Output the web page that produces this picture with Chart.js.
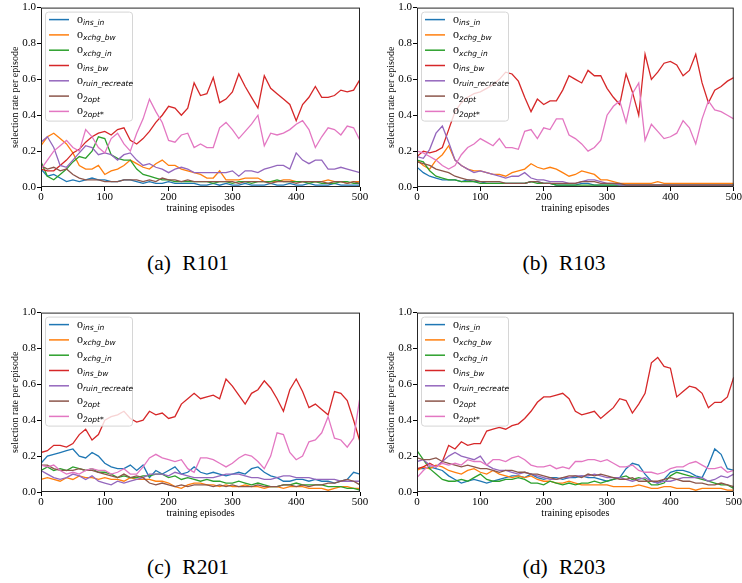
<!DOCTYPE html>
<html>
<head>
<meta charset="utf-8">
<script src="https://cdn.jsdelivr.net/npm/chart.js@4.4.1/dist/chart.umd.min.js"></script>
<style>
  body { margin: 0; background: #fff; }
  #page { position: relative; width: 742px; height: 583px; overflow: hidden; background: #fff; }
  canvas { position: absolute; }
  .caption {
    position: absolute; width: 200px; text-align: center;
    font-family: 'Liberation Serif', serif; font-size: 21.5px; line-height: 24px;
    word-spacing: 6px; color: #000;
  }
</style>
</head>
<body>
<div id="page">
  <canvas id="r101" width="371" height="225" style="left:0;top:0;width:371px;height:225px"></canvas>
  <canvas id="r103" width="366" height="225" style="left:376px;top:0;width:366px;height:225px"></canvas>
  <canvas id="r201" width="371" height="225" style="left:0;top:305px;width:371px;height:225px"></canvas>
  <canvas id="r203" width="366" height="225" style="left:376px;top:305px;width:366px;height:225px"></canvas>
  <div class="caption" style="left:88px;top:251px">(a) R101</div>
  <div class="caption" style="left:464px;top:251px">(b) R103</div>
  <div class="caption" style="left:88px;top:555px">(c) R201</div>
  <div class="caption" style="left:464px;top:555px">(d) R203</div>
</div>
<script>
// x positions (training episodes), sampled every 10 episodes
const episodes = [0,10,20,30,40,50,60,70,80,90,100,110,120,130,140,150,160,170,180,190,200,210,220,230,240,250,260,270,280,290,300,310,320,330,340,350,360,370,380,390,400,410,420,430,440,450,460,470,480,490,500];
const xTicks = [0, 100, 200, 300, 400, 500];
const yTicks = [0, 0.2, 0.4, 0.6, 0.8, 1.0];
const yTickLabels = ['0.0', '0.2', '0.4', '0.6', '0.8', '1.0'];

const seriesNames = ['ins_in', 'xchg_bw', 'xchg_in', 'ins_bw', 'ruin_recreate', '2opt', '2opt*'];
const seriesColors = ['#1f77b4', '#ff7f0e', '#2ca02c', '#d62728', '#9467bd', '#8c564b', '#e377c2'];

// R101
const r101InsIn = [0.10,0.06,0.07,0.05,0.03,0.04,0.03,0.04,0.05,0.04,0.04,0.03,0.03,0.04,0.04,0.03,0.02,0.03,0.02,0.02,0.03,0.02,0.02,0.02,0.02,0.01,0.01,0.02,0.01,0.02,0.01,0.01,0.02,0.01,0.01,0.01,0.02,0.01,0.01,0.02,0.01,0.01,0.02,0.01,0.01,0.01,0.02,0.01,0.01,0.01,0.01];
const r101XchgBw = [0.23,0.28,0.30,0.27,0.24,0.19,0.12,0.10,0.10,0.12,0.07,0.09,0.10,0.12,0.15,0.13,0.11,0.10,0.13,0.15,0.12,0.12,0.10,0.09,0.08,0.07,0.05,0.05,0.09,0.04,0.04,0.04,0.05,0.05,0.05,0.03,0.03,0.03,0.04,0.04,0.03,0.03,0.03,0.03,0.03,0.04,0.03,0.03,0.02,0.03,0.03];
const r101XchgIn = [0.14,0.06,0.04,0.07,0.10,0.14,0.17,0.16,0.20,0.28,0.27,0.18,0.16,0.15,0.15,0.10,0.07,0.06,0.05,0.04,0.04,0.03,0.03,0.03,0.03,0.03,0.03,0.02,0.03,0.03,0.02,0.03,0.03,0.02,0.03,0.03,0.03,0.04,0.03,0.03,0.03,0.03,0.02,0.03,0.02,0.02,0.02,0.03,0.03,0.02,0.02];
const r101InsBw = [0.10,0.09,0.09,0.12,0.15,0.19,0.21,0.25,0.28,0.30,0.31,0.29,0.32,0.33,0.26,0.24,0.27,0.31,0.36,0.40,0.45,0.44,0.40,0.44,0.58,0.51,0.52,0.61,0.47,0.49,0.53,0.63,0.56,0.50,0.44,0.62,0.55,0.52,0.49,0.46,0.37,0.46,0.50,0.56,0.50,0.50,0.51,0.54,0.53,0.54,0.60];
const r101Ruin = [0.25,0.28,0.22,0.12,0.11,0.15,0.19,0.23,0.22,0.18,0.19,0.18,0.15,0.18,0.19,0.15,0.12,0.13,0.11,0.10,0.08,0.10,0.11,0.10,0.08,0.08,0.08,0.08,0.08,0.08,0.09,0.06,0.09,0.09,0.08,0.10,0.11,0.12,0.12,0.10,0.19,0.15,0.13,0.15,0.15,0.10,0.10,0.11,0.10,0.09,0.08];
const r101TwoOpt = [0.12,0.10,0.11,0.09,0.10,0.07,0.05,0.04,0.04,0.04,0.03,0.03,0.03,0.04,0.04,0.04,0.03,0.04,0.03,0.05,0.04,0.04,0.03,0.04,0.03,0.03,0.03,0.03,0.03,0.03,0.03,0.02,0.03,0.03,0.03,0.03,0.02,0.03,0.03,0.03,0.02,0.03,0.03,0.03,0.03,0.02,0.03,0.03,0.02,0.03,0.02];
const r101TwoOptStar = [0.10,0.15,0.20,0.23,0.26,0.22,0.20,0.32,0.28,0.22,0.19,0.27,0.30,0.24,0.20,0.30,0.38,0.49,0.42,0.36,0.26,0.25,0.29,0.30,0.22,0.24,0.22,0.22,0.33,0.36,0.32,0.27,0.31,0.35,0.40,0.23,0.30,0.29,0.30,0.32,0.35,0.37,0.32,0.22,0.28,0.33,0.32,0.29,0.34,0.33,0.26];

// R103
const r103InsIn = [0.11,0.08,0.06,0.05,0.04,0.04,0.04,0.03,0.04,0.03,0.03,0.02,0.02,0.02,0.02,0.02,0.02,0.02,0.03,0.03,0.02,0.02,0.01,0.01,0.01,0.01,0.02,0.02,0.01,0.01,0.01,0.01,0.01,0.01,0.01,0.01,0.01,0.01,0.01,0.01,0.01,0.01,0.01,0.01,0.01,0.01,0.01,0.01,0.01,0.01,0.01];
const r103XchgBw = [0.15,0.12,0.10,0.15,0.18,0.23,0.15,0.12,0.10,0.09,0.09,0.08,0.07,0.07,0.06,0.08,0.09,0.10,0.13,0.11,0.10,0.11,0.10,0.08,0.06,0.07,0.09,0.08,0.07,0.04,0.04,0.03,0.02,0.02,0.02,0.02,0.02,0.02,0.03,0.02,0.02,0.02,0.02,0.02,0.02,0.02,0.02,0.02,0.02,0.02,0.02];
const r103XchgIn = [0.15,0.14,0.09,0.06,0.05,0.04,0.04,0.03,0.03,0.03,0.02,0.02,0.02,0.02,0.02,0.02,0.02,0.02,0.03,0.02,0.02,0.02,0.01,0.01,0.01,0.01,0.01,0.01,0.01,0.01,0.01,0.01,0.01,0.01,0.01,0.01,0.01,0.01,0.01,0.01,0.01,0.01,0.01,0.01,0.01,0.01,0.01,0.01,0.01,0.01,0.01];
const r103InsBw = [0.17,0.20,0.19,0.20,0.22,0.32,0.42,0.47,0.50,0.52,0.53,0.55,0.57,0.60,0.64,0.63,0.59,0.50,0.42,0.49,0.46,0.48,0.48,0.54,0.62,0.60,0.58,0.65,0.62,0.62,0.55,0.50,0.46,0.63,0.53,0.40,0.74,0.60,0.64,0.69,0.70,0.68,0.62,0.65,0.74,0.58,0.47,0.54,0.56,0.59,0.61];
const r103Ruin = [0.17,0.16,0.21,0.30,0.34,0.25,0.15,0.12,0.10,0.08,0.09,0.08,0.07,0.06,0.05,0.06,0.06,0.08,0.05,0.04,0.04,0.03,0.03,0.03,0.02,0.02,0.03,0.04,0.04,0.03,0.02,0.02,0.01,0.01,0.01,0.01,0.01,0.01,0.01,0.01,0.01,0.01,0.01,0.01,0.01,0.01,0.01,0.01,0.01,0.01,0.01];
const r103TwoOpt = [0.14,0.13,0.12,0.10,0.09,0.08,0.06,0.05,0.04,0.04,0.03,0.03,0.03,0.03,0.02,0.02,0.02,0.02,0.03,0.03,0.02,0.02,0.02,0.02,0.02,0.02,0.03,0.03,0.03,0.02,0.02,0.02,0.02,0.01,0.01,0.01,0.01,0.01,0.01,0.01,0.01,0.01,0.01,0.01,0.01,0.01,0.01,0.01,0.01,0.01,0.01];
const r103TwoOptStar = [0.20,0.19,0.17,0.15,0.12,0.10,0.12,0.18,0.22,0.24,0.27,0.25,0.23,0.27,0.22,0.22,0.21,0.31,0.32,0.27,0.33,0.32,0.38,0.38,0.29,0.27,0.24,0.20,0.22,0.26,0.40,0.45,0.48,0.36,0.52,0.58,0.26,0.35,0.31,0.27,0.28,0.30,0.37,0.33,0.24,0.38,0.48,0.43,0.42,0.40,0.38];

// R201
const r201InsIn = [0.16,0.20,0.21,0.22,0.23,0.24,0.20,0.19,0.22,0.20,0.16,0.14,0.13,0.13,0.15,0.12,0.15,0.08,0.12,0.10,0.12,0.14,0.10,0.11,0.14,0.11,0.10,0.11,0.10,0.09,0.10,0.11,0.10,0.13,0.14,0.11,0.09,0.08,0.06,0.06,0.07,0.07,0.06,0.07,0.06,0.06,0.05,0.06,0.07,0.11,0.10];
const r201XchgBw = [0.07,0.08,0.07,0.06,0.08,0.07,0.09,0.08,0.08,0.07,0.08,0.07,0.07,0.06,0.08,0.07,0.07,0.07,0.06,0.06,0.05,0.03,0.02,0.04,0.05,0.05,0.04,0.04,0.03,0.04,0.03,0.03,0.04,0.03,0.03,0.02,0.03,0.03,0.02,0.03,0.03,0.03,0.02,0.02,0.02,0.01,0.02,0.03,0.03,0.02,0.02];
const r201XchgIn = [0.12,0.14,0.12,0.13,0.12,0.14,0.13,0.12,0.13,0.11,0.11,0.10,0.08,0.09,0.08,0.08,0.09,0.09,0.10,0.10,0.08,0.09,0.07,0.08,0.07,0.06,0.07,0.06,0.06,0.05,0.05,0.06,0.05,0.04,0.05,0.04,0.03,0.03,0.04,0.04,0.05,0.04,0.04,0.04,0.04,0.03,0.03,0.03,0.02,0.02,0.01];
const r201InsBw = [0.22,0.23,0.26,0.26,0.25,0.27,0.32,0.35,0.29,0.32,0.40,0.42,0.43,0.45,0.41,0.39,0.40,0.45,0.43,0.44,0.41,0.42,0.49,0.52,0.55,0.52,0.53,0.54,0.52,0.63,0.59,0.54,0.49,0.55,0.57,0.62,0.58,0.52,0.45,0.57,0.63,0.56,0.47,0.49,0.46,0.43,0.56,0.55,0.51,0.40,0.28];
const r201Ruin = [0.12,0.10,0.08,0.07,0.08,0.10,0.09,0.07,0.09,0.06,0.05,0.04,0.06,0.05,0.06,0.07,0.08,0.10,0.10,0.10,0.09,0.11,0.10,0.09,0.08,0.08,0.08,0.08,0.09,0.10,0.10,0.10,0.09,0.08,0.08,0.07,0.07,0.08,0.09,0.09,0.08,0.08,0.08,0.07,0.07,0.07,0.07,0.06,0.06,0.06,0.06];
const r201TwoOpt = [0.15,0.15,0.13,0.12,0.12,0.12,0.13,0.12,0.12,0.11,0.10,0.09,0.08,0.10,0.08,0.09,0.08,0.05,0.04,0.05,0.04,0.03,0.04,0.03,0.04,0.04,0.04,0.03,0.04,0.03,0.04,0.03,0.03,0.03,0.04,0.03,0.03,0.03,0.04,0.04,0.03,0.04,0.03,0.04,0.04,0.05,0.05,0.06,0.07,0.06,0.04];
const r201TwoOptStar = [0.15,0.14,0.15,0.12,0.10,0.11,0.10,0.12,0.13,0.12,0.12,0.10,0.11,0.13,0.10,0.10,0.14,0.19,0.21,0.19,0.18,0.17,0.18,0.13,0.11,0.19,0.19,0.18,0.16,0.14,0.16,0.19,0.21,0.20,0.17,0.13,0.20,0.33,0.32,0.22,0.18,0.20,0.28,0.29,0.33,0.42,0.30,0.29,0.25,0.30,0.53];

// R203
const r203InsIn = [0.13,0.13,0.14,0.13,0.12,0.09,0.07,0.05,0.06,0.07,0.06,0.05,0.06,0.07,0.08,0.09,0.09,0.08,0.10,0.08,0.07,0.08,0.08,0.07,0.08,0.08,0.09,0.08,0.08,0.07,0.06,0.07,0.08,0.13,0.16,0.15,0.10,0.06,0.05,0.07,0.11,0.12,0.12,0.11,0.09,0.08,0.15,0.24,0.21,0.13,0.12];
const r203XchgBw = [0.12,0.14,0.13,0.15,0.14,0.12,0.11,0.10,0.12,0.13,0.11,0.10,0.12,0.10,0.09,0.08,0.09,0.08,0.09,0.07,0.06,0.06,0.05,0.05,0.06,0.05,0.04,0.04,0.04,0.04,0.04,0.03,0.03,0.03,0.03,0.04,0.03,0.02,0.02,0.03,0.03,0.02,0.02,0.02,0.01,0.02,0.02,0.02,0.02,0.01,0.01];
const r203XchgIn = [0.23,0.18,0.13,0.10,0.07,0.06,0.06,0.07,0.06,0.08,0.10,0.07,0.06,0.06,0.07,0.07,0.08,0.07,0.05,0.05,0.04,0.06,0.05,0.04,0.05,0.04,0.05,0.05,0.06,0.05,0.06,0.07,0.08,0.09,0.07,0.08,0.07,0.04,0.04,0.05,0.09,0.11,0.10,0.09,0.08,0.07,0.06,0.05,0.04,0.04,0.02];
const r203InsBw = [0.13,0.14,0.16,0.14,0.17,0.26,0.24,0.28,0.26,0.27,0.27,0.34,0.35,0.36,0.35,0.37,0.38,0.41,0.45,0.50,0.53,0.53,0.54,0.55,0.52,0.45,0.43,0.44,0.45,0.41,0.44,0.47,0.52,0.51,0.44,0.49,0.55,0.72,0.75,0.70,0.69,0.53,0.56,0.59,0.58,0.55,0.47,0.50,0.50,0.53,0.64];
const r203Ruin = [0.17,0.18,0.15,0.14,0.17,0.20,0.22,0.20,0.19,0.18,0.20,0.15,0.13,0.12,0.12,0.11,0.10,0.11,0.10,0.09,0.08,0.07,0.07,0.08,0.08,0.09,0.09,0.09,0.10,0.09,0.08,0.08,0.08,0.07,0.06,0.07,0.08,0.06,0.05,0.06,0.06,0.07,0.08,0.08,0.08,0.08,0.06,0.07,0.09,0.08,0.10];
const r203TwoOpt = [0.19,0.18,0.18,0.19,0.17,0.16,0.15,0.14,0.15,0.14,0.13,0.13,0.12,0.11,0.12,0.12,0.11,0.11,0.10,0.10,0.09,0.08,0.07,0.08,0.09,0.09,0.08,0.10,0.09,0.10,0.09,0.08,0.07,0.07,0.08,0.06,0.06,0.06,0.06,0.07,0.08,0.07,0.06,0.06,0.05,0.05,0.04,0.04,0.05,0.04,0.03];
const r203TwoOptStar = [0.08,0.12,0.15,0.14,0.16,0.15,0.16,0.15,0.18,0.17,0.17,0.15,0.18,0.18,0.17,0.19,0.20,0.18,0.15,0.14,0.14,0.15,0.13,0.14,0.13,0.17,0.17,0.18,0.18,0.17,0.18,0.16,0.14,0.14,0.15,0.12,0.11,0.11,0.10,0.11,0.13,0.14,0.14,0.16,0.17,0.15,0.13,0.13,0.14,0.11,0.12];

const serif = "'Liberation Serif', 'Times New Roman', serif";

// black box around the plot area (matplotlib spines)
const framePlugin = {
  id: 'frame',
  afterDatasetsDraw(chart) {
    const { ctx, chartArea: a } = chart;
    ctx.save();
    ctx.strokeStyle = '#262626';
    ctx.lineWidth = 1;
    ctx.strokeRect(a.left + 0.5, a.top + 0.5, a.right - a.left - 1, a.bottom - a.top - 1);
    ctx.restore();
  },
};

// legend with "o" and an italic subscript, like the mathtext labels
const subLegendPlugin = {
  id: 'subLegend',
  afterDraw(chart) {
    const { ctx, chartArea: a } = chart;
    const x0 = a.left + 4, y0 = a.top + 4, w = 87, h = 109, r = 3;
    ctx.save();
    ctx.beginPath();
    ctx.roundRect(x0 + 0.5, y0 + 0.5, w, h, r);
    ctx.fillStyle = 'rgba(255,255,255,0.8)';
    ctx.fill();
    ctx.strokeStyle = '#d6d6d6';
    ctx.lineWidth = 1;
    ctx.stroke();
    chart.data.datasets.forEach((ds, i) => {
      const y = y0 + 8 + i * 15.3;
      ctx.beginPath();
      ctx.moveTo(x0 + 4, y);
      ctx.lineTo(x0 + 24, y);
      ctx.strokeStyle = ds.borderColor;
      ctx.lineWidth = 1.5;
      ctx.stroke();
      ctx.fillStyle = '#000';
      ctx.textBaseline = 'alphabetic';
      ctx.font = '12px ' + serif;
      ctx.fillText('o', x0 + 32, y + 3);
      ctx.font = 'italic 7.5px "DejaVu Sans"';
      ctx.fillText(ds.label, x0 + 38, y + 5.5);
    });
    ctx.restore();
  },
};

function buildChart(id, values, rightPad) {
  const ctx = document.getElementById(id).getContext('2d');
  return new Chart(ctx, {
    type: 'line',
    data: {
      datasets: values.map((vals, i) => ({
        label: seriesNames[i],
        data: vals.map((v, k) => ({ x: episodes[k], y: v })),
        borderColor: seriesColors[i],
        backgroundColor: seriesColors[i],
        borderWidth: 1.3,
        pointRadius: 0,
        tension: 0,
        fill: false,
        order: values.length - 1 - i, // later series drawn on top
      })),
    },
    options: {
      responsive: false,
      animation: false,
      layout: { padding: { top: 7, right: rightPad, bottom: 0, left: 0 } },
      plugins: { legend: { display: false }, tooltip: { enabled: false } },
      scales: {
        x: {
          type: 'linear',
          min: 0,
          max: 500,
          afterBuildTicks: (scale) => { scale.ticks = xTicks.map((v) => ({ value: v })); },
          afterFit: (scale) => { scale.height = 38; },
          ticks: {
            color: '#000',
            font: { family: serif, size: 11 },
            padding: 0,
            maxRotation: 0,
            autoSkip: false,
            callback: (v) => String(v),
          },
          grid: { drawOnChartArea: false, drawTicks: true, tickLength: 4, color: '#000' },
          border: { display: false },
          title: {
            display: true,
            text: 'training episodes',
            color: '#000',
            font: { family: serif, size: 10 },
            padding: { top: 0, bottom: 11 },
          },
        },
        y: {
          min: 0,
          max: 1,
          afterBuildTicks: (scale) => { scale.ticks = yTicks.map((v) => ({ value: v })); },
          afterFit: (scale) => { scale.width = 41; },
          ticks: {
            color: '#000',
            font: { family: serif, size: 11 },
            padding: 1,
            autoSkip: false,
            callback: (v, i) => yTickLabels[i],
          },
          grid: { drawOnChartArea: false, drawTicks: true, tickLength: 4, color: '#000' },
          border: { display: false },
          title: {
            display: true,
            text: 'selection rate per episode',
            color: '#000',
            font: { family: serif, size: 10 },
            padding: { top: 9, bottom: 0 },
          },
        },
      },
    },
    plugins: [framePlugin, subLegendPlugin],
  });
}

buildChart('r101', [r101InsIn, r101XchgBw, r101XchgIn, r101InsBw, r101Ruin, r101TwoOpt, r101TwoOptStar], 11);
buildChart('r103', [r103InsIn, r103XchgBw, r103XchgIn, r103InsBw, r103Ruin, r103TwoOpt, r103TwoOptStar], 6);
buildChart('r201', [r201InsIn, r201XchgBw, r201XchgIn, r201InsBw, r201Ruin, r201TwoOpt, r201TwoOptStar], 11);
buildChart('r203', [r203InsIn, r203XchgBw, r203XchgIn, r203InsBw, r203Ruin, r203TwoOpt, r203TwoOptStar], 6);
</script>
</body>
</html>
